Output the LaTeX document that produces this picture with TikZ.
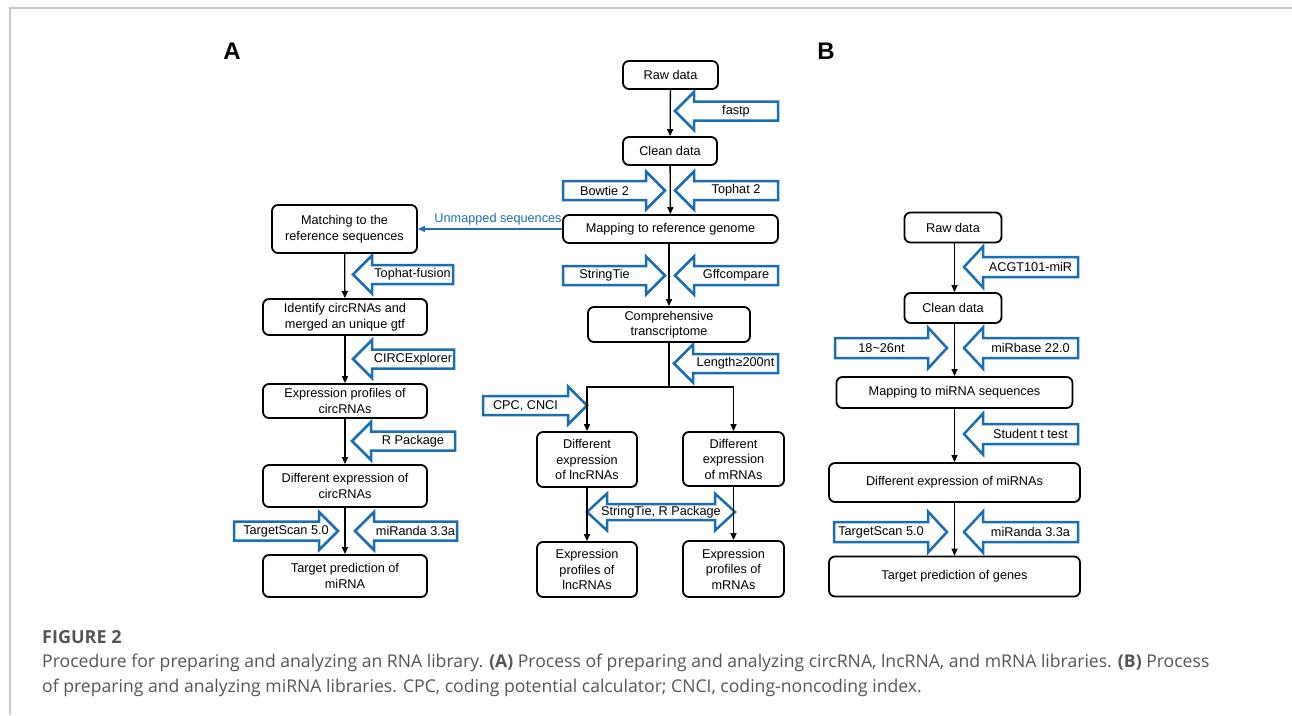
\documentclass[tikz,border=0pt]{standalone}
\usepackage{fontspec}
\setmainfont{Liberation Sans}
\newfontfamily\capfont{Open Sans}
\usetikzlibrary{arrows.meta}
\definecolor{bblue}{HTML}{1A6EB5}
\definecolor{capgray}{HTML}{555555}
\definecolor{framegray}{HTML}{C8C8C8}
\def\hl{19}
\def\hh{19}
\def\sh{9.5}
\newcommand{\larr}[5]{%
  \draw[barrow] (#2,#3) -- ++(\hl,-\hh) -- ++(0,\hh-\sh) -- (#4,#3-\sh) -- (#4,#3+\sh) -- (#2+\hl,#3+\sh) -- ++(0,\hh-\sh) -- cycle;
  \node[btext] (#1) at ({(#2+\hl+#4)/2},#3) {#5};}
\newcommand{\rarrshape}[3]{%
  \draw[barrow] (#3,#2) -- ++(-\hl,-\hh) -- ++(0,\hh-\sh) -- (#1,#2-\sh) -- (#1,#2+\sh) -- (#3-\hl,#2+\sh) -- ++(0,\hh-\sh) -- cycle;}
\newcommand{\rarr}[5]{%
  \rarrshape{#2}{#3}{#4}%
  \node[btext] (#1) at ({(#2+#4-\hl)/2},#3) {#5};}
\begin{document}
\begin{tikzpicture}[x=1pt,y=-1pt,
  box/.style={draw, line width=1.8pt, rounded corners=6pt, align=center, inner sep=0pt,
    font=\fontsize{12.7}{15.5}\selectfont},
  barrow/.style={draw=bblue, fill=white, line width=2.5pt, line join=miter},
  btext/.style={inner sep=0pt, font=\fontsize{12.7}{15.5}\selectfont},
  conn/.style={draw, line width=1.3pt, -{Triangle[length=7pt,width=6pt]}},
  plainline/.style={draw, line width=1.3pt},
  panel/.style={font=\fontsize{24}{24}\selectfont\bfseries},
  captext/.style={anchor=base west, inner sep=0pt, text=capgray, font=\capfont\fontsize{17.6}{20}\selectfont}
]
\useasboundingbox (0,0) rectangle (1292,715);
\draw[framegray, line width=2pt] (9.5,715) -- (9.5,7.5) -- (1292,7.5);

\node[panel] (pa) at (232,51) {A};
\node[panel] (pb) at (826,51) {B};

% ---------- blue tool arrows ----------
% centre column
\larr{fastp}{675}{111}{778}{fastp}
\rarr{bowtie}{563}{190.5}{665}{Bowtie 2}
\larr{tophat}{675}{190.5}{778}{Tophat 2}
\rarr{stringtie}{563}{275.5}{665}{StringTie}
\larr{gffc}{675}{275.5}{778}{Gffcompare}
\larr{length}{674}{363.5}{778}{Length≥200nt}
\rarr{cpc}{483}{405.5}{587}{CPC, CNCI}
\draw[barrow] (587,512) -- ++(20,-18.5) -- ++(0,10.5) -- (715,504) -- (715,493.5) -- (735,512)
  -- (715,530.5) -- (715,520) -- (607,520) -- (607,530.5) -- cycle;
\node[btext] (strr) at (661,512) {StringTie, R Package};
% left column
\larr{tfusion}{353}{274.5}{453}{Tophat-fusion}
\larr{circex}{353}{359}{454}{CIRCExplorer}
\larr{rpack}{352}{441}{455}{R Package}
\rarrshape{234}{531}{338}
\node[btext] (tscanA) at (286,531) {TargetScan 5.0};
\larr{mirandaA}{355}{531}{457}{miRanda 3.3a}
% panel B
\def\hh{20.5}
\def\sh{10}
\larr{acgt}{964}{267}{1078}{ACGT101-miR}
\rarr{nt}{835}{348}{947}{18\textasciitilde 26nt}
\larr{mirbase}{964}{348}{1078}{miRbase 22.0}
\larr{ttest}{964}{434}{1078}{Student t test}
\rarr{tscanB}{834}{532}{947}{TargetScan 5.0}
\larr{mirandaB}{964}{532}{1078}{miRanda 3.3a}

% ---------- boxes ----------
% centre column
\node[box, minimum width=95, minimum height=28] (raw) at (670.5,75) {Raw data};
\node[box, minimum width=94, minimum height=28] (clean) at (670,151) {Clean data};
\node[box, minimum width=215, minimum height=28] (map) at (670.5,229) {Mapping to reference genome};
\node[box, minimum width=162, minimum height=35] (comp) at (669,324.5) {Comprehensive\\transcriptome};
\node[box, minimum width=100, minimum height=55] (lnc1) at (587,459.5) {Different\\expression\\of lncRNAs};
\node[box, minimum width=101, minimum height=54] (m1) at (733.5,459) {Different\\expression\\of mRNAs};
\node[box, minimum width=100, minimum height=55] (lnc2) at (587,569.5) {Expression\\profiles of\\lncRNAs};
\node[box, minimum width=101, minimum height=56] (m2) at (733.5,569) {Expression\\profiles of\\mRNAs};
% left column
\node[box, minimum width=145, minimum height=48] (match) at (344.5,229) {Matching to the\\reference sequences};
\node[box, minimum width=164, minimum height=36] (ident) at (345,317) {Identify circRNAs and\\merged an unique gtf};
\node[box, minimum width=164, minimum height=34] (cexp) at (345,401) {Expression profiles of\\circRNAs};
\node[box, minimum width=164, minimum height=42] (cdiff) at (345,486) {Different expression of\\circRNAs};
\node[box, minimum width=164, minimum height=42] (ctar) at (345,576) {Target prediction of\\miRNA};
% panel B
\node[box, minimum width=97, minimum height=30] (braw) at (953,227.5) {Raw data};
\node[box, minimum width=97, minimum height=30] (bclean) at (953,308) {Clean data};
\node[box, minimum width=236, minimum height=31] (bmap) at (954.5,392.5) {Mapping to miRNA sequences};
\node[box, minimum width=251, minimum height=39] (bdiff) at (954.5,482.5) {Different expression of miRNAs};
\node[box, minimum width=251, minimum height=40] (btar) at (954.5,576.5) {Target prediction of genes};

% ---------- connectors ----------
\draw[conn] (raw) -- (clean);
\draw[conn] (clean) -- (map);
\draw[conn] (map.south -| comp) -- (comp);
\coordinate (split) at (669,387);
\draw[plainline] (comp) -- (split);
\draw[conn] (split) -| (lnc1.north);
\draw[conn] (split) -| (m1.north);
\draw[conn] (lnc1) -- (lnc2);
\draw[conn] (m1) -- (m2);
\draw[draw=bblue, line width=1.5pt, -{Triangle[length=7pt,width=6pt]}] (map.west) -- (match.east)
  node[midway, above=3pt, xshift=8pt, text=bblue, font=\fontsize{12.7}{15.5}\selectfont, inner sep=0pt] (unm) {Unmapped sequences};
\draw[conn] (match) -- (ident);
\draw[conn] (ident) -- (cexp);
\draw[conn] (cexp) -- (cdiff);
\draw[conn] (cdiff) -- (ctar);
\draw[conn] (braw.south -| bmap) -- (bclean.north -| bmap);
\draw[conn] (bclean.south -| bmap) -- (bmap);
\draw[conn] (bmap) -- (bdiff);
\draw[conn] (bdiff) -- (btar);

% ---------- caption ----------
\node[captext, font=\capfont\bfseries\fontsize{18}{20}\selectfont] (fig) at (42,643) {FIGURE 2};
\node[captext] (c1) at (42,667) {Procedure for preparing and analyzing an RNA library. \textbf{(A)} Process of preparing and analyzing circRNA, lncRNA, and mRNA libraries. \textbf{(B)} Process};
\node[captext] (c2) at (42,692) {of preparing and analyzing miRNA libraries. CPC, coding potential calculator; CNCI, coding-noncoding index.};
\end{tikzpicture}
\end{document}
